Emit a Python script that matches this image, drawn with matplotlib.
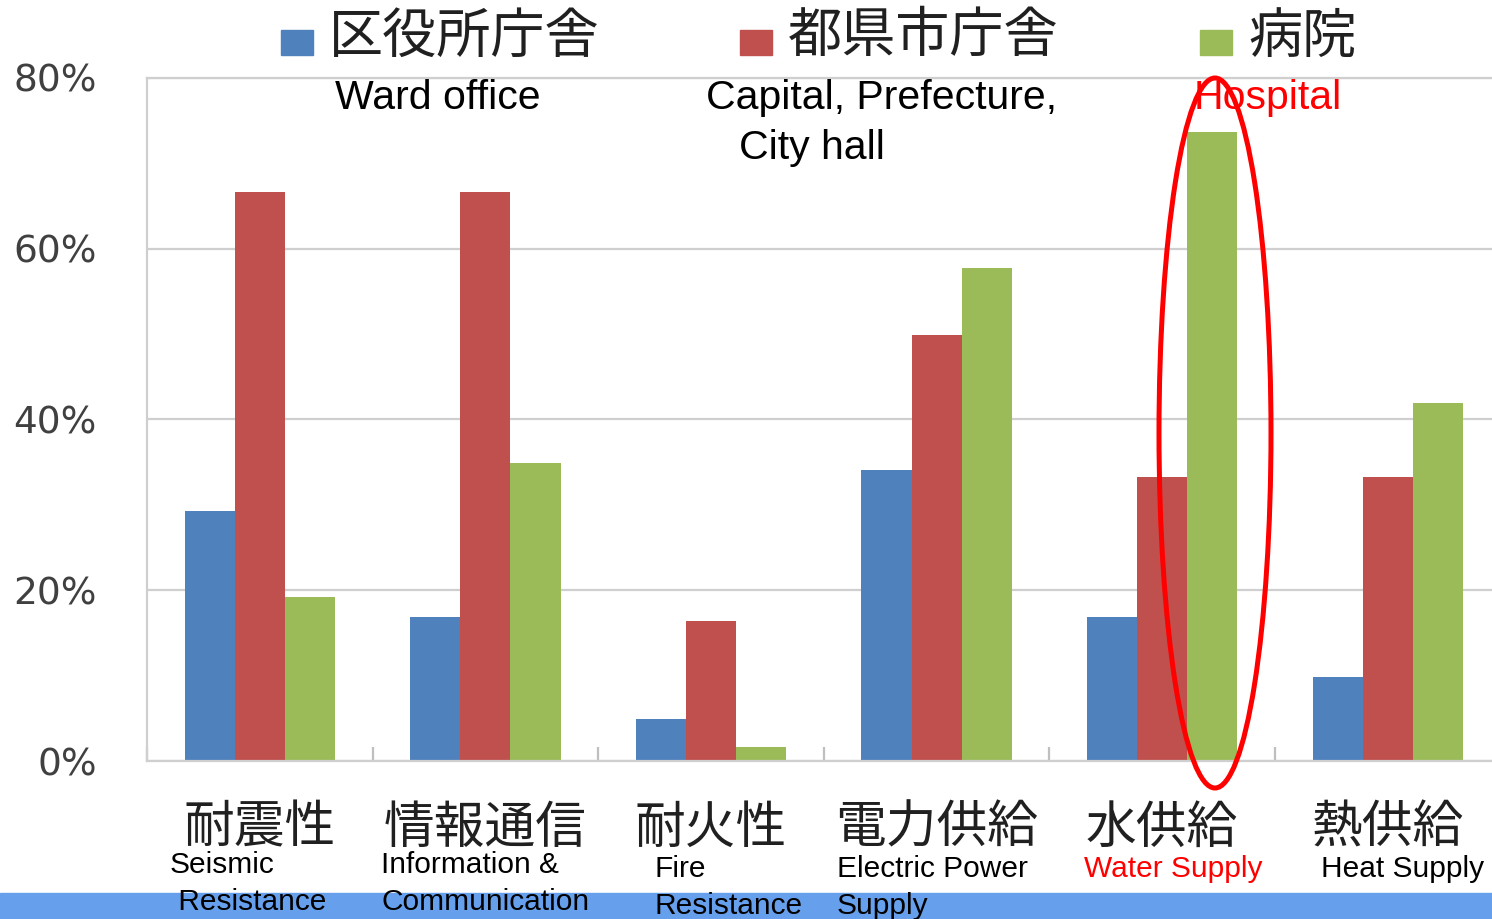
import matplotlib
matplotlib.use("Agg")
import numpy as np
import matplotlib.pyplot as plt
from matplotlib.patches import Rectangle, Ellipse

# data
categories_jp = ["耐震性", "情報通信", "耐火性", "電力供給", "水供給", "熱供給"]
categories_en = ["Seismic\n Resistance", "Information &\nCommunication", "Fire\nResistance",
                 "Electric Power\nSupply", "Water Supply", "Heat Supply"]
series_jp = ["区役所庁舎", "都県市庁舎", "病院"]
ward_office = [29.3, 16.9, 4.9, 34.1, 16.9, 9.8]
prefecture = [66.6, 66.6, 16.4, 49.9, 33.3, 33.3]
hospital = [19.2, 34.9, 1.6, 57.7, 73.7, 41.9]
yticks = [0, 20, 40, 60, 80]
ytick_labels = ["0%", "20%", "40%", "60%", "80%"]

colors = ["#4F81BD", "#C0504D", "#9BBB59"]
JP = ["Noto Sans CJK JP", "DejaVu Sans"]
EN = "Liberation Sans"

W, H = 1492, 919
fig = plt.figure(figsize=(W / 100, H / 100), dpi=100)

# blue band at the bottom of the slide
fig.patches.append(Rectangle((0, 0), 1, 26 / H, transform=fig.transFigure,
                             color="#66A0EC", zorder=-1))

ax = fig.add_axes([147 / W, 1 - 761 / H, (1500.6 - 147) / W, (761 - 78) / H])
ax.set_facecolor("none")

x = np.arange(len(categories_jp))
bw = 0.222
for i, vals in enumerate([ward_office, prefecture, hospital]):
    ax.bar(x + (i - 1) * bw, vals, bw, color=colors[i], zorder=2)

ax.set_xlim(-0.5, len(categories_jp) - 0.5)
ax.set_ylim(0, 80)
ax.set_yticks(yticks, ytick_labels)
ax.yaxis.grid(True, color="#CFCFCF", lw=1.6, zorder=0)
ax.set_axisbelow(True)
ax.spines["right"].set_visible(False)
for s in ["left", "bottom", "top"]:
    ax.spines[s].set_color("#CFCFCF")
    ax.spines[s].set_linewidth(1.6)

ax.tick_params(axis="y", length=0, pad=36, labelsize=27, labelcolor="#404040")
ax.set_xticks(x, categories_jp)
ax.set_xticks(np.arange(len(categories_jp) + 1) - 0.5, minor=True)
ax.tick_params(axis="x", which="major", length=0, pad=30)
ax.tick_params(axis="x", which="minor", direction="in", length=10, color="#BFBFBF", width=1.6)
for t in ax.get_xticklabels():
    t.set_fontfamily(JP)
    t.set_fontsize(36.5)
    t.set_color("#202020")

# English labels under the Japanese categories
en_offsets = [-90, -104, -56, -100, -78, -67]
en_drop = [0, 0, 3, 3, 3, 3]
for i, lab in enumerate(categories_en):
    c = "red" if i == 4 else "black"
    ax.annotate(lab, xy=(x[i], 0), xycoords="data",
                xytext=(en_offsets[i] * 0.72, -65 - en_drop[i]), textcoords="offset points",
                ha="left", va="top", fontsize=21.5, family=EN, color=c,
                linespacing=1.4, annotation_clip=False)

# legend at the top
leg_x = [281, 740, 1200]
for i, name in enumerate(series_jp):
    fig.patches.append(Rectangle((leg_x[i] / W, 1 - 55 / H), 32 / W, 25 / H,
                                 transform=fig.transFigure, color=colors[i]))
    fig.text((leg_x[i] + 48) / W, 1 - 37 / H, name, family=JP, fontsize=39,
             color="#202020", va="center", ha="left")

# English annotations
fig.text(438 / W, 1 - 98 / H, "Ward office", family=EN, fontsize=29.5, ha="center", va="center")
fig.text(882 / W, 1 - 98 / H, "Capital, Prefecture,", family=EN, fontsize=29.5, ha="center", va="center")
fig.text(812 / W, 1 - 148 / H, "City hall", family=EN, fontsize=29.5, ha="center", va="center")
fig.text(1268 / W, 1 - 98 / H, "Hospital", family=EN, fontsize=29.5, ha="center", va="center", color="red")

# red ellipse around the hospital water supply bar
fig.patches.append(Ellipse((1215 / W, 1 - 433 / H), 112 / W, 710 / H, transform=fig.transFigure,
                           fill=False, edgecolor="red", lw=3.6, zorder=5))

fig.savefig("out.png", dpi=100)
